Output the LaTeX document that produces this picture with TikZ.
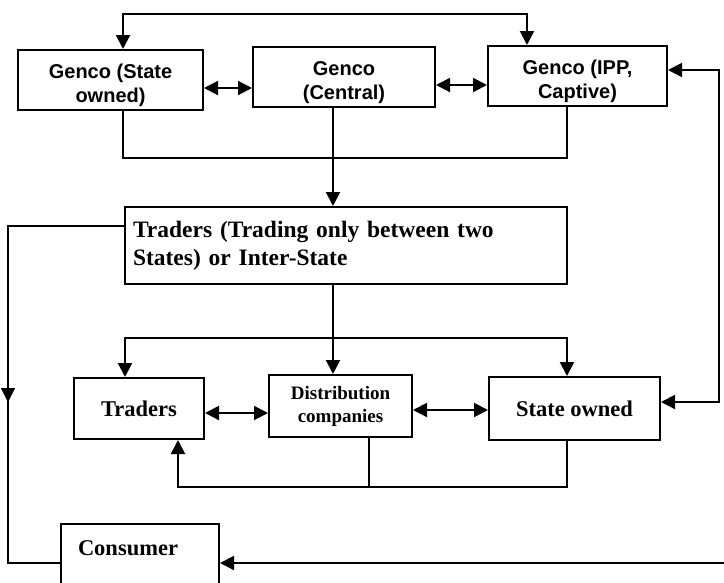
\documentclass[tikz,border=0pt]{standalone}
\usepackage{fontspec}
\setmainfont{Liberation Serif}
\newfontfamily\gencofont{Liberation Sans}
\usetikzlibrary{arrows.meta}

\begin{document}
\begin{tikzpicture}[x=1pt,y=-1pt,line width=2pt,
  tip/.style={-{Triangle[length=14pt,width=14pt]}},
  dbl/.style={{Triangle[length=14pt,width=14pt]}-{Triangle[length=14pt,width=14pt]}},
  gbox/.style={draw,align=center,inner sep=0pt,text height=48,text depth=4,font=\gencofont\bfseries\fontsize{20}{24}\selectfont},
  tbox/.style={draw,align=center,inner sep=0pt,font=\bfseries\fontsize{22.5}{28}\selectfont}]
\clip (0,0) rectangle (724,582);
\fill[white] (0,0) rectangle (724,582);
\node[gbox,minimum width=185,minimum height=60] (gs) at (110.5,80) {Genco (State\\owned)};
\node[gbox,minimum width=182,minimum height=60] (gc) at (344,77) {Genco\\(Central)};
\node[gbox,minimum width=179,minimum height=60] (gi) at (577.5,76) {Genco (IPP,\\Captive)};
\node[tbox,minimum width=442,minimum height=77,text width=426,align=left,font=\bfseries\fontsize{23.5}{28}\selectfont] (ti) at (346,245.5) {Traders (Trading only between two\\States) or Inter-State};
\node[tbox,minimum width=130,minimum height=61] (tr) at (139,408.5) {Traders};
\node[tbox,minimum width=143,minimum height=62,font=\bfseries\fontsize{19}{23}\selectfont] (dist) at (340.5,406) {Distribution\\companies};
\node[tbox,minimum width=171,minimum height=63] (so) at (574.5,408.5) {State owned};
\node[tbox,minimum width=158,minimum height=78,text width=124,align=left,text height=17,text depth=33] (cons) at (140,563) {Consumer};
\coordinate (rt) at (724,563);
\draw[dbl] (gs.north -| 123,0) -- (123,14) -| (gi.north -| 527,0);
\draw[dbl] (gs.east |- 0,88) -- (gc.west |- 0,88);
\draw[dbl] (gc.east |- 0,85) -- (gi.west |- 0,85);
\draw (gs.south -| 123,0) -- (123,158) -| (gi.south -| 567,0);
\draw[tip] (gc.south -| 333,0) -- (ti.north -| 333,0);
\draw (ti.west |- 0,226) -| (8,563) -- (cons.west);
\draw[tip] (8,380) -- (8,402);
\draw[tip] (ti.south -| 333,0) -- (dist.north -| 333,0);
\draw[dbl] (tr.north -| 125,0) -- (125,338) -| (so.north -| 567,0);
\draw[dbl] (tr.east |- 0,413) -- (dist.west |- 0,413);
\draw[dbl] (dist.east |- 0,410) -- (so.west |- 0,410);
\draw[tip] (so.south -| 567,0) |- (178,487) -- (tr.south -| 178,0);
\draw (dist.south -| 369,0) -- (369,487);
\draw[dbl] (gi.east |- 0,70) -| (719,402) -- (so.east |- 0,402);
\draw[tip] (rt) -- (cons.east);
\end{tikzpicture}
\end{document}
